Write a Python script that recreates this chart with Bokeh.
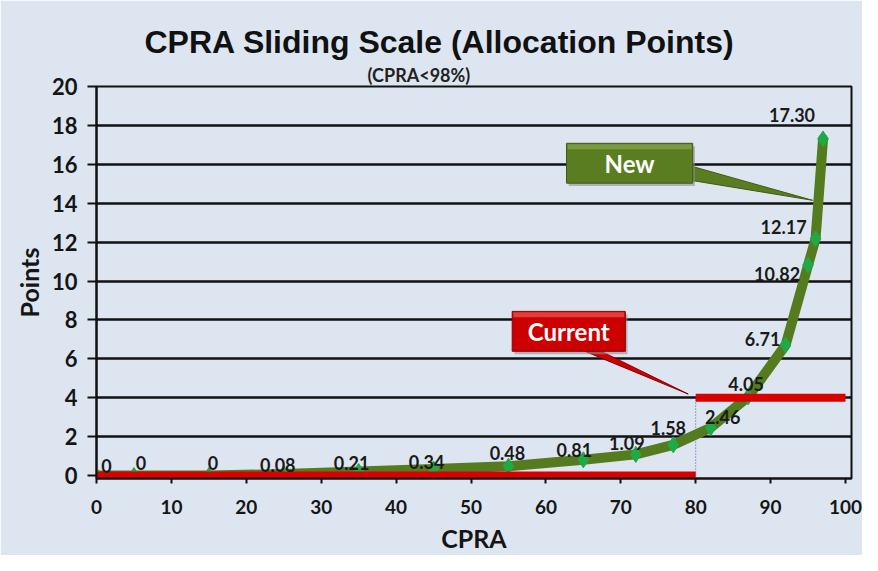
from bokeh.plotting import figure
from bokeh.models import Range1d, Title, ColumnDataSource, FixedTicker
from bokeh.core.properties import value
from bokeh.embed import file_html
from bokeh.resources import INLINE

# ---- data ----
cpra = [0, 5, 15, 25, 35, 45, 55, 65, 72, 77, 82, 87, 92, 95, 96, 97]
new_points = [0, 0, 0, 0.08, 0.21, 0.34, 0.48, 0.81, 1.09, 1.58, 2.46, 4.05, 6.71, 10.82, 12.17, 17.30]
point_labels = ["0", "0", "0", "0.08", "0.21", "0.34", "0.48", "0.81", "1.09", "1.58",
                "2.46", "4.05", "6.71", "10.82", "12.17", "17.30"]
current_from = [0, 80]
current_to = [80, 100]
current_points = [0, 4]
x_ticks = [0, 10, 20, 30, 40, 50, 60, 70, 80, 90, 100]
y_ticks = [0, 2, 4, 6, 8, 10, 12, 14, 16, 18, 20]

# label pixel offsets (style)
label_dx = [10, 7, 4, -6, -7, -7, -1, -9, -9, -5, 12, -2, -23, -31, -32, -31]
label_dy = [-10, -13, -13, -9, -8, -7, -13, -10, -11, -17, -11, -13, -6, 9, -12, -24]

BG = "#dde6f0"
FONT = "Lato"

p = figure(width=862, height=555, output_backend="svg", toolbar_location=None,
           x_range=Range1d(0, 100.8), y_range=Range1d(-0.15, 20),
           min_border_left=96, min_border_right=11, min_border_top=86, min_border_bottom=68)
p.background_fill_color = BG
p.border_fill_color = BG
p.outline_line_color = "#111111"
p.outline_line_width = 2

# titles
sub = Title(text="(CPRA<98%)", align="left", offset=271, text_font=FONT,
            text_font_size="18px", text_font_style="bold", text_color="#222222", standoff=1)
p.add_layout(sub, "above")
main = Title(text="CPRA Sliding Scale (Allocation  Points)", align="left", offset=48,
             text_font="Liberation Sans", text_font_size="32px", text_font_style="bold",
             text_color="#111111", standoff=4)
p.add_layout(main, "above")

# axes
p.xaxis.ticker = FixedTicker(ticks=x_ticks)
p.yaxis.ticker = FixedTicker(ticks=y_ticks)
for ax in (p.xaxis, p.yaxis):
    ax.axis_line_color = "#111111"
    ax.axis_line_width = 2
    ax.major_tick_line_color = "#111111"
    ax.major_tick_line_width = 2
    ax.minor_tick_line_color = None
    ax.major_tick_in = 0
    ax.major_label_text_font = FONT
    ax.major_label_text_font_style = "bold"
    ax.major_label_text_color = "#151515"
    ax.axis_label_text_font = FONT
    ax.axis_label_text_font_style = "bold"
    ax.axis_label_text_color = "#151515"
p.xaxis.major_tick_out = 5
p.xaxis.major_label_standoff = 16
p.xaxis.major_label_text_font_size = "19px"
p.xaxis.axis_label = "CPRA"
p.xaxis.axis_label_text_font_size = "25px"
p.xaxis.axis_label_standoff = 6
p.yaxis.major_tick_out = 9
p.yaxis.major_label_standoff = 10
p.yaxis.major_label_text_font_size = "22px"
p.yaxis.axis_label = "Points"
p.yaxis.axis_label_text_font_size = "25px"
p.yaxis.axis_label_standoff = 5

p.xgrid.grid_line_color = None
p.ygrid.ticker = FixedTicker(ticks=y_ticks[1:])
p.ygrid.grid_line_color = "#111111"
p.ygrid.grid_line_width = 2.5

# dotted guide at the current step
p.segment(x0=[current_from[1]], y0=[current_points[0]], x1=[current_from[1]], y1=[current_points[1]],
          line_color="#3d5a99", line_width=1, line_dash="1 2")

# new curve
p.line(cpra, new_points, line_color="#557b1f", line_width=10, line_join="round", line_cap="round")
p.scatter(cpra, new_points, marker="diamond", size=16, fill_color="#1faa47", line_color="#1faa47")

# current (red step)
p.segment(x0=current_from, y0=current_points, x1=current_to, y1=current_points,
          line_color="#d90000", line_width=8)

# data labels
src = ColumnDataSource(dict(x=cpra, y=new_points, t=point_labels, dx=label_dx, dy=label_dy))
p.text(x="x", y="y", text="t", x_offset="dx", y_offset="dy", source=src,
       text_font=value(FONT), text_font_style="bold", text_font_size="18px",
       text_color="#1a1a1a", text_align="center", text_baseline="middle")

# callouts
def callout(left, right, bottom, top, wedge_x, wedge_y, fill, light, shadow, text):
    p.patch(wedge_x, wedge_y, fill_color=fill, line_color=shadow, line_width=1)
    p.quad(left=[left + 0.3], right=[right + 0.3], bottom=[bottom - 0.15], top=[top - 0.15],
           fill_color="#8a8f96", line_color=None, fill_alpha=0.6)
    p.quad(left=[left], right=[right], bottom=[bottom], top=[top],
           fill_color=fill, line_color=shadow, line_width=1)
    p.quad(left=[left + 0.15], right=[right - 0.15], bottom=[top - 0.3], top=[top - 0.05],
           fill_color=light, line_color=None, fill_alpha=0.7)
    p.text(x=[(left + right) / 2], y=[(bottom + top) / 2], text=[text],
           text_font=value(FONT), text_font_style="bold", text_font_size="24px",
           text_color="white", text_align="center", text_baseline="middle")

callout(62.75, 79.6, 15.03, 17.08, [79.0, 95.6, 79.0], [15.95, 14.15, 15.2],
        "#5b7d22", "#8aa84e", "#3e5a14", "New")
callout(55.5, 70.6, 6.39, 8.44, [64.5, 79.0, 66.8], [6.5, 4.19, 6.5],
        "#cc0000", "#ee5555", "#8a0000", "Current")

open("out.html", "w").write(file_html(p, INLINE))
